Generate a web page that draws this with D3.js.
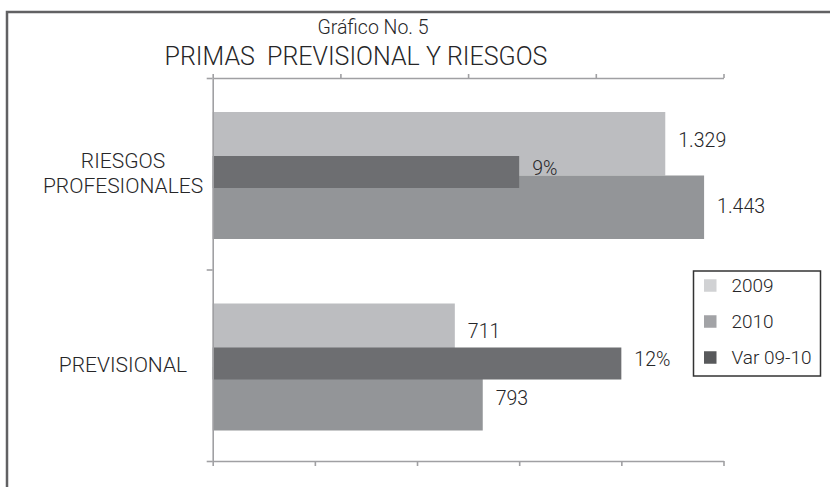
<!DOCTYPE html>
<html>
<head>
<meta charset="utf-8">
<script src="https://cdn.jsdelivr.net/npm/d3@7"></script>
<style>
  body { margin: 0; background: #fff; }
  svg text { font-family: "Roboto", "Liberation Sans", sans-serif; font-weight: 300; fill: #262628; }
</style>
</head>
<body>
<svg width="830" height="487"></svg>
<script>
// data
var categories = ["RIESGOS PROFESIONALES", "PREVISIONAL"];
var series = ["2009", "2010"];
var values2009 = [1329, 711];
var values2010 = [1443, 793];
var variation = [0.09, 0.12];   // Var 09-10, secondary axis
var primaryTicks = [0, 300, 600, 900, 1200, 1500];
var secondaryTicks = [0, 0.0375, 0.075, 0.1125, 0.15];
var legendLabels = ["2009", "2010", "Var 09-10"];

var barColors = { "2009": "#bcbdc0", "2010": "#939598", "var": "#6d6e71" };
var legendColors = ["#d1d2d4", "#a2a3a6", "#58595b"];

var svg = d3.select("svg");

// outer frame (top + left only)
svg.append("path")
    .attr("d", "M7,487V12H830")
    .attr("fill", "none")
    .attr("stroke", "#616163")
    .attr("stroke-width", 2.5);

// titles
svg.append("text")
    .attr("x", 373).attr("y", 34)
    .attr("text-anchor", "middle")
    .style("font-size", "19.5px")
    .text("Gráfico No. 5");

svg.append("text")
    .attr("x", 356).attr("y", 65)
    .attr("text-anchor", "middle")
    .style("font-size", "25px")
    .style("white-space", "pre")
    .text("PRIMAS  PREVISIONAL Y RIESGOS");

var plotL = 212.7, plotR = 723.5, plotT = 78, plotB = 461;

var x = d3.scaleLinear().domain([0, 1500]).range([plotL, plotR]);
var x2 = d3.scaleLinear().domain([0, 0.15]).range([plotL, plotR]);
var y = d3.scaleBand().domain(categories).range([plotT, plotB]);
var ySub = d3.scaleBand().domain(series).range([34, 161]);
var yEdge = d3.scaleLinear().domain([0, categories.length]).range([plotT, plotB]);

var rows = categories.map((c, i) => ({
    cat: c,
    "2009": values2009[i],
    "2010": values2010[i],
    v: variation[i]
}));

// 2009 / 2010 bars
var gBars = svg.append("g");
series.forEach(s => {
    gBars.selectAll("rect.s" + s)
        .data(rows)
        .enter()
        .append("rect")
        .attr("class", "s" + s)
        .attr("x", x(0))
        .attr("y", d => y(d.cat) + ySub(s))
        .attr("width", d => x(d[s]) - x(0))
        .attr("height", ySub.bandwidth())
        .attr("fill", barColors[s]);
});

// variation bars on the secondary axis
var varH = 32;
gBars.selectAll("rect.var")
    .data(rows)
    .enter()
    .append("rect")
    .attr("class", "var")
    .attr("x", x2(0))
    .attr("y", d => y(d.cat) + 78)
    .attr("width", d => x2(d.v) - x2(0))
    .attr("height", varH)
    .attr("fill", barColors["var"]);

// axes
function styleAxis(g) {
    g.selectAll("path, line").attr("stroke", "#a0a0a3").attr("stroke-width", 1.6);
    g.selectAll("text").remove();
}

svg.append("g")
    .attr("transform", "translate(0," + plotB + ")")
    .call(d3.axisBottom(x).tickValues(primaryTicks).tickSize(5).tickSizeOuter(0).tickFormat(""))
    .call(styleAxis);

svg.append("g")
    .attr("transform", "translate(0," + plotT + ")")
    .call(d3.axisTop(x2).tickValues(secondaryTicks).tickSize(4).tickSizeOuter(0).tickFormat(""))
    .call(styleAxis);

svg.append("g")
    .attr("transform", "translate(" + plotL + ",0)")
    .call(d3.axisLeft(yEdge).tickValues(d3.range(categories.length + 1)).tickSize(6).tickSizeOuter(0).tickFormat(""))
    .call(styleAxis);

// category labels
var catG = svg.append("g");
rows.forEach(d => {
    var words = d.cat.split(" ");
    var cy = y(d.cat) + y.bandwidth() / 2;
    words.forEach((w, i) => {
        catG.append("text")
            .attr("x", 123)
            .attr("y", cy + 7 + (i - (words.length - 1) / 2) * 25)
            .attr("text-anchor", "middle")
            .style("font-size", "21px")
            .text(w);
    });
});

// data labels
var fmt = d3.formatLocale({ decimal: ",", thousands: ".", grouping: [3], currency: ["$", ""] });
var numFmt = fmt.format(",d");
var lblG = svg.append("g").style("font-size", "19.5px");
var yShift = { "2009": -4, "2010": -1 };
series.forEach(s => {
    lblG.selectAll("text.l" + s)
        .data(rows)
        .enter()
        .append("text")
        .attr("class", "l" + s)
        .attr("x", d => x(d[s]) + 13)
        .attr("y", d => y(d.cat) + ySub(s) + ySub.bandwidth() / 2 + yShift[s])
        .attr("dy", "0.35em")
        .text(d => numFmt(d[s]));
});
lblG.selectAll("text.lv")
    .data(rows)
    .enter()
    .append("text")
    .attr("class", "lv")
    .attr("x", d => x2(d.v) + 13)
    .attr("y", d => y(d.cat) + 78 + varH / 2 - 4)
    .attr("dy", "0.35em")
    .text(d => d3.format(".0%")(d.v));

// legend
var legend = svg.append("g").attr("transform", "translate(693.5,271)");
legend.append("rect")
    .attr("width", 127).attr("height", 105)
    .attr("fill", "#fff")
    .attr("stroke", "#333")
    .attr("stroke-width", 1.5);
var li = legend.selectAll("g.item")
    .data(legendLabels)
    .enter()
    .append("g")
    .attr("class", "item")
    .attr("transform", (d, i) => "translate(0," + (14.5 + i * 36) + ")");
li.append("rect")
    .attr("x", 10.5).attr("y", -6.25)
    .attr("width", 12.5).attr("height", 12.5)
    .attr("fill", (d, i) => legendColors[i]);
li.append("text")
    .attr("x", 38).attr("dy", "0.35em")
    .style("font-size", "19px")
    .text(d => d);
</script>
</body>
</html>
